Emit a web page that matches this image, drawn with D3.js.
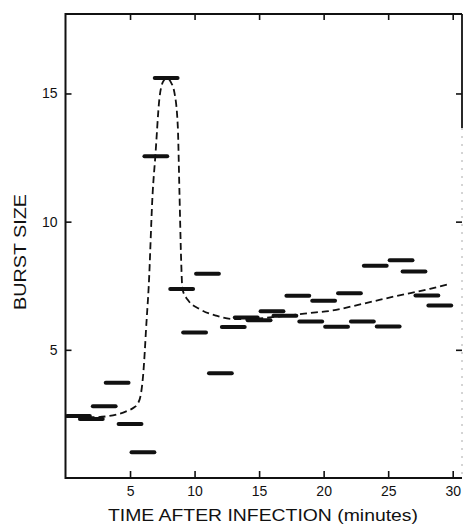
<!DOCTYPE html>
<html>
<head>
<meta charset="utf-8">
<script src="https://cdn.jsdelivr.net/npm/d3@7"></script>
<style>
  body { margin: 0; background: #fff; }
  #chart { width: 465px; height: 527px; }
  text { font-family: "Liberation Sans", Arial, sans-serif; fill: #111; }
</style>
</head>
<body>
<div id="chart"></div>
<script>
// burst size bars: each one spans a time window (minutes)
const barStart = [0, 1, 2, 3, 4, 5, 6, 6.8, 8, 9, 10, 11, 12, 13, 14, 15, 16, 17, 18, 19, 20, 21, 22, 23, 24, 25, 26, 27, 28];
const barEnd   = [2, 3, 4, 5, 6, 7, 8, 8.8, 10, 11, 12, 13, 14, 15, 16, 17, 18, 19, 20, 21, 22, 23, 24, 25, 26, 27, 28, 29, 30];
const barValue = [2.42, 2.3, 2.8, 3.72, 2.11, 1.0, 12.55, 15.6, 7.37, 5.68, 7.97, 4.09, 5.89, 6.26, 6.15, 6.5, 6.33, 7.11, 6.1, 6.91, 5.9, 7.21, 6.1, 8.28, 5.91, 8.49, 8.06, 7.12, 6.73];

// dashed fitted curve
const curveTime  = [0, 1, 2.1, 3.4, 4.7, 5.3, 5.6, 5.85, 6.03, 6.15, 6.24, 6.45, 6.75, 6.96, 7.27, 7.55, 7.84, 8.15, 8.44, 8.7, 8.83, 8.96, 9.06, 9.47, 10.4, 11.68, 12.97, 14.8, 16.85, 19.4, 20.5, 23.06, 25.65, 28.24, 29.8];
const curveValue = [2.4, 2.4, 2.37, 2.42, 2.6, 2.75, 2.9, 3.3, 4.1, 5.0, 5.8, 7.5, 11.1, 12.55, 14.77, 15.45, 15.6, 15.45, 15.03, 13.72, 11.12, 8.5, 7.37, 6.95, 6.59, 6.33, 6.2, 6.22, 6.32, 6.46, 6.52, 6.8, 7.1, 7.38, 7.58];

const xTicks = [5, 10, 15, 20, 25, 30];
const yTicks = [5, 10, 15];

const width = 465;
const height = 527;
const margin = {top: 14, left: 65.5, right: 3, bottom: 49};

const svg = d3.select("#chart")
    .append("svg")
    .attr("width", width)
    .attr("height", height);

/*
SCALES
*/
const xScale = d3.scaleLinear()
    .domain([0, 30.72])
    .range([margin.left, width - margin.right]);

const yScale = d3.scaleLinear()
    .domain([0, 18.1])
    .range([height - margin.bottom, margin.top]);

/*
AXES (ticks point inward)
*/
const xAxis = svg.append("g")
    .attr("transform", `translate(0,${height - margin.bottom})`)
    .call(d3.axisBottom(xScale).tickValues(xTicks).tickSize(-7).tickSizeOuter(0).tickPadding(8));

const xAxisTop = svg.append("g")
    .attr("transform", `translate(0,${margin.top})`)
    .call(d3.axisTop(xScale).tickValues(xTicks).tickSize(-6).tickSizeOuter(0).tickFormat(""));

const yAxis = svg.append("g")
    .attr("transform", `translate(${margin.left},0)`)
    .call(d3.axisLeft(yScale).tickValues(yTicks).tickSize(-6).tickSizeOuter(0).tickPadding(8));

const yAxisRight = svg.append("g")
    .attr("transform", `translate(${width - margin.right},0)`)
    .call(d3.axisRight(yScale).tickValues(yTicks).tickSize(-6).tickSizeOuter(0).tickFormat(""));

svg.selectAll(".domain").remove();
svg.selectAll(".tick line").attr("stroke", "#111").attr("stroke-width", 1.6);
svg.selectAll(".tick text")
    .attr("font-size", 14)
    .attr("fill", "#111");

// frame
const x0 = xScale.range()[0], x1 = xScale.range()[1];
const y0 = yScale.range()[0], y1 = yScale.range()[1];
svg.append("path")
    .attr("d", `M${x1},${y1} L${x0},${y1} L${x0},${y0} L${x1},${y0}`)
    .attr("fill", "none")
    .attr("stroke", "#111")
    .attr("stroke-width", 2);
// right border: solid at the top, faded further down as in the scan
svg.append("line")
    .attr("x1", x1).attr("x2", x1)
    .attr("y1", y1).attr("y2", 128)
    .attr("stroke", "#111").attr("stroke-width", 1.8);
svg.append("line")
    .attr("x1", x1).attr("x2", x1)
    .attr("y1", 128).attr("y2", y0)
    .attr("stroke", "#aaa").attr("stroke-width", 1)
    .attr("stroke-dasharray", "2,6");

/*
DASHED CURVE
*/
const curvePts = curveTime.map((t, i) => [t, curveValue[i]]);
const line = d3.line()
    .x(d => xScale(d[0]))
    .y(d => yScale(d[1]))
    .curve(d3.curveMonotoneX);

svg.append("path")
    .datum(curvePts)
    .attr("d", line)
    .attr("fill", "none")
    .attr("stroke", "#111")
    .attr("stroke-width", 1.8)
    .attr("stroke-dasharray", "7,4");

/*
BARS
*/
const bars = barValue.map((v, i) => ({start: barStart[i], end: barEnd[i], value: v}));
svg.selectAll(".bar")
    .data(bars)
    .enter()
    .append("line")
        .attr("class", "bar")
        .attr("x1", d => xScale(d.start) + 1.5)
        .attr("x2", d => xScale(d.end) - 1.5)
        .attr("y1", d => yScale(d.value))
        .attr("y2", d => yScale(d.value))
        .attr("stroke", "#111")
        .attr("stroke-width", 4)
        .attr("stroke-linecap", "round");

/*
AXIS LABELS
*/
svg.append("text")
    .attr("x", 108)
    .attr("y", 521)
    .attr("font-size", 17)
    .attr("textLength", 310)
    .attr("lengthAdjust", "spacingAndGlyphs")
    .text("TIME AFTER INFECTION (minutes)");

svg.append("text")
    .attr("transform", "rotate(-90)")
    .attr("x", -252)
    .attr("y", 26)
    .attr("text-anchor", "middle")
    .attr("font-size", 17)
    .attr("textLength", 116)
    .attr("lengthAdjust", "spacingAndGlyphs")
    .text("BURST SIZE");
</script>
</body>
</html>
